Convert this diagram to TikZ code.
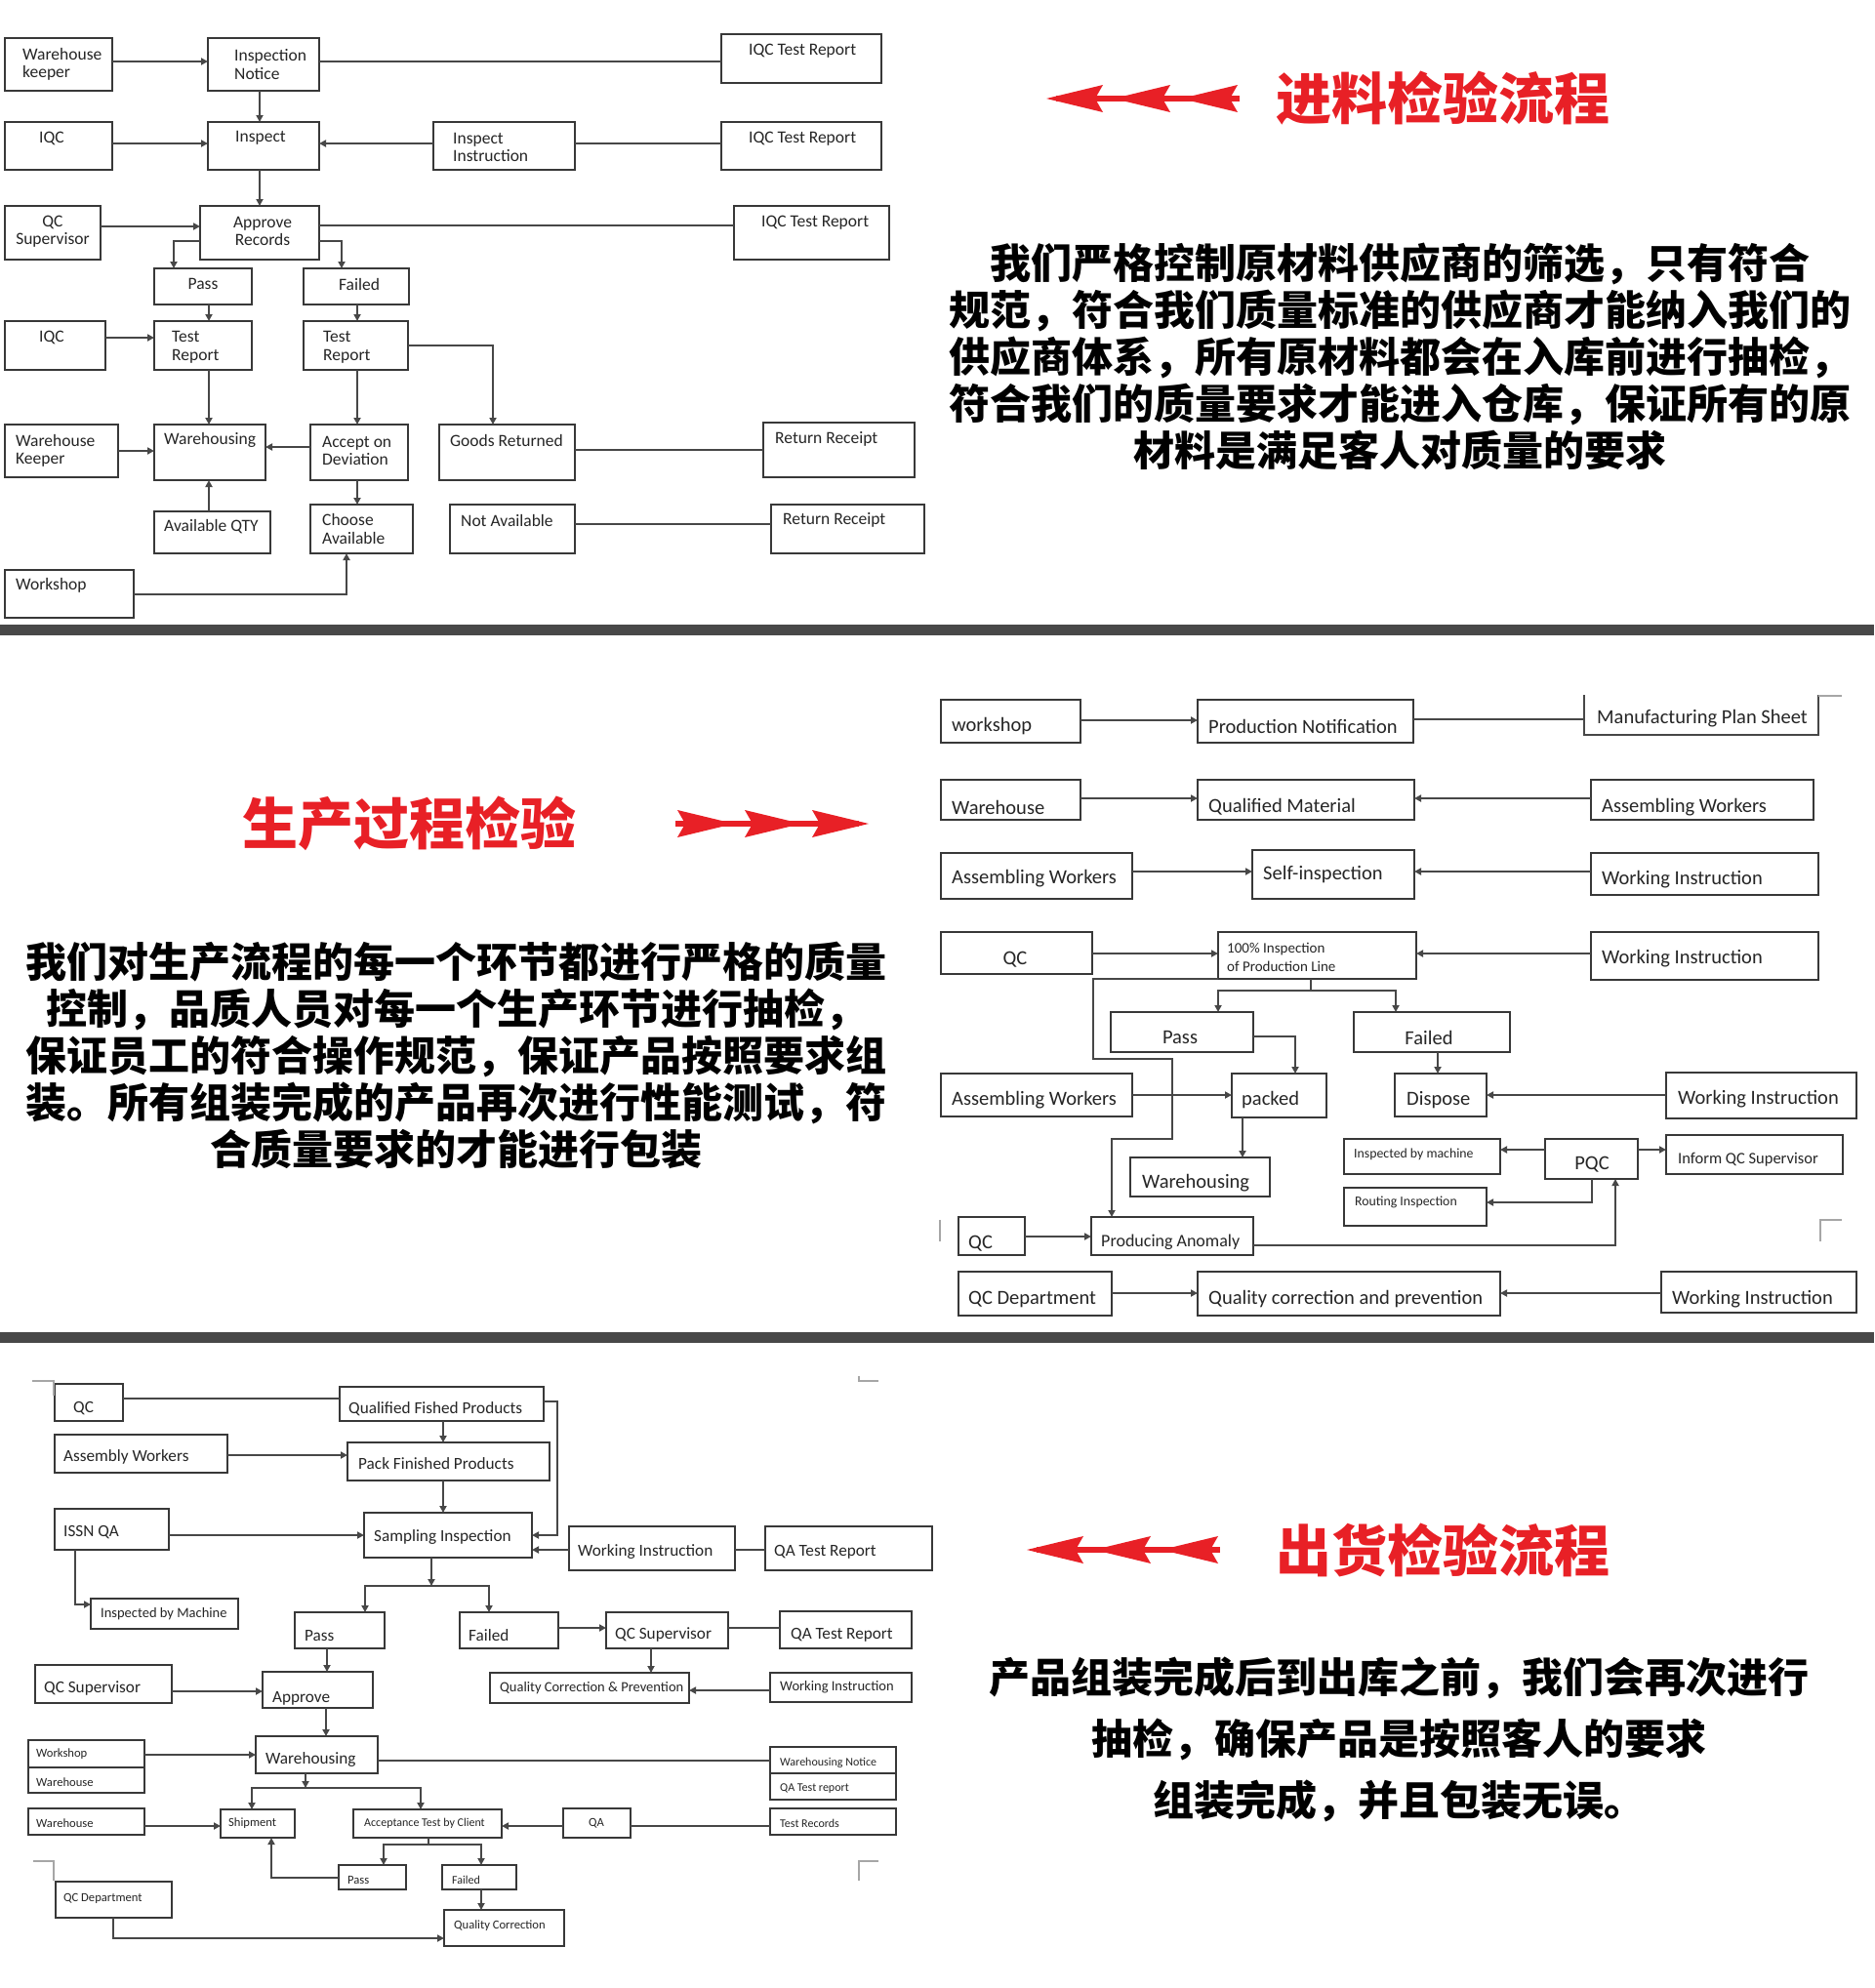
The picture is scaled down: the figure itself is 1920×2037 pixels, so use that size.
\documentclass[tikz,border=0pt]{standalone}
\usepackage{fontspec}
\setmainfont{Carlito}
\newfontfamily\cjk{Noto Sans CJK SC}
\usetikzlibrary{arrows.meta}
\definecolor{redc}{RGB}{232,32,38}
\definecolor{barc}{RGB}{72,72,72}
\tikzset{
  box/.style={draw=black!78, line width=1.8pt, inner sep=0pt, outer sep=0pt},
  ln/.style={draw=black!72, line width=1.8pt},
  arr/.style={ln, -{Triangle[length=7pt,width=7pt]}},
  mk/.style={draw=black!35, line width=1.2pt},
  tx/.style={anchor=west, align=left, inner sep=0pt, text=black!85},
  fa/.style={font=\fontsize{17.5}{18.5}\selectfont},
  fb/.style={font=\fontsize{20.5}{23}\selectfont},
  fc/.style={font=\fontsize{15}{19}\selectfont},
  fd/.style={font=\fontsize{13.8}{16}\selectfont},
  fe/.style={font=\fontsize{16.5}{19}\selectfont},
  ff/.style={font=\fontsize{18}{20}\selectfont},
  fg/.style={font=\fontsize{17.2}{19}\selectfont},
  fh/.style={font=\fontsize{14.5}{16}\selectfont},
  fi/.style={font=\fontsize{12.6}{14}\selectfont},
  fj/.style={font=\fontsize{12}{13}\selectfont},
  para/.style={font=\cjk\bfseries\fontsize{42}{48}\selectfont, align=center, inner sep=0pt, text=black},
  ttl/.style={font=\cjk\bfseries\fontsize{57}{60}\selectfont, inner sep=0pt, text=redc},
}
\newcommand\Bx[9]{%
  \node[box, minimum width={#4-#2}, minimum height={#5-#3}] (#1) at ({(#2+#4)/2},{(#3+#5)/2}) {};
  \node[tx, #8] (#1-t) at (#6,#7) {#9};}
\newcommand\RedArr[3]{%
  \begin{scope}[shift={(#1,#2)}, xscale=#3]
    \foreach \k in {0,69,138} \fill[redc] (\k,0) -- (\k+58,-14) -- (\k+50,0) -- (\k+58,14) -- cycle;
    \draw[redc, line width=6pt] (10,0) -- (198,0);
  \end{scope}}
\begin{document}
\begin{tikzpicture}[x=1pt,y=-1pt]
\fill[white] (0,0) rectangle (1920,2037);
\useasboundingbox (0,0) rectangle (1920,2037);

% ===== separators =====
\fill[barc] (0,640) rectangle (1920,651);
\fill[barc] (0,1365) rectangle (1920,1376);

% ===== section 1 =====
\Bx{wk}{5}{39}{115}{93}{23}{66}{fa}{Warehouse\\keeper}
\Bx{insn}{213}{39}{327}{93}{240}{66}{fa}{Inspection\\Notice}
\Bx{iqcr1}{739}{35}{903}{85}{767}{52}{fa}{IQC Test Report}
\Bx{iqc1}{5}{125}{115}{174}{40}{142}{fa}{IQC}
\Bx{insp}{213}{125}{327}{174}{241}{141}{fa}{Inspect}
\Bx{insi}{444}{125}{589}{174}{464}{151}{fa}{Inspect\\Instruction}
\Bx{iqcr2}{739}{125}{903}{174}{767}{142}{fa}{IQC Test Report}
\Bx{qcs}{5}{211}{103}{266}{54}{237}{fa,anchor=center,align=center}{QC\\Supervisor}
\Bx{appr}{205}{211}{327}{266}{269}{237}{fa,anchor=center,align=center}{Approve\\Records}
\Bx{iqcr3}{752}{211}{911}{266}{780}{228}{fa}{IQC Test Report}
\Bx{pass1}{158}{275}{258}{312}{208}{291}{fa,anchor=center}{Pass}
\Bx{fail1}{311}{275}{419}{312}{368}{291}{fa,anchor=center}{Failed}
\Bx{iqc2}{5}{329}{108}{379}{40}{346}{fa}{IQC}
\Bx{tr1}{158}{329}{258}{379}{176}{356}{fa}{Test\\Report}
\Bx{tr2}{311}{329}{418}{379}{331}{356}{fa}{Test\\Report}
\Bx{whk}{5}{435}{121}{489}{16}{462}{fa}{Warehouse\\Keeper}
\Bx{wh1}{158}{435}{272}{492}{168}{451}{fa}{Warehousing}
\Bx{aod}{318}{435}{418}{492}{330}{462}{fa}{Accept on\\Deviation}
\Bx{gr}{450}{435}{589}{492}{461}{451}{fa}{Goods Returned}
\Bx{rr1}{782}{433}{937}{489}{794}{450}{fa}{Return Receipt}
\Bx{aq}{158}{524}{277}{567}{168}{540}{fa}{Available QTY}
\Bx{ca}{318}{517}{423}{567}{330}{542}{fa}{Choose\\Available}
\Bx{na}{461}{517}{589}{567}{472}{533}{fa}{Not Available}
\Bx{rr2}{790}{517}{947}{567}{802}{533}{fa}{Return Receipt}
\Bx{ws1}{5}{584}{137}{633}{16}{600}{fa}{Workshop}

\draw[arr] (wk.east|-0,63) -- (insn.west|-0,63);
\draw[ln] (insn.east|-0,63) -- (iqcr1.west|-0,63);
\draw[arr] (insn.south-|266,0) -- (insp.north-|266,0);
\draw[arr] (iqc1.east|-0,147) -- (insp.west|-0,147);
\draw[arr] (insi.west|-0,147) -- (insp.east|-0,147);
\draw[ln] (insi.east|-0,147) -- (iqcr2.west|-0,147);
\draw[arr] (insp.south-|266,0) -- (appr.north-|266,0);
\draw[arr] (qcs.east|-0,232) -- (appr.west|-0,232);
\draw[ln] (appr.east|-0,231) -- (iqcr3.west|-0,231);
\draw[arr] (appr.west|-0,247) -| (pass1.north-|178,0);
\draw[arr] (appr.east|-0,247) -| (fail1.north-|350,0);
\draw[arr] (pass1.south-|214,0) -- (tr1.north-|214,0);
\draw[arr] (fail1.south-|366,0) -- (tr2.north-|366,0);
\draw[arr] (iqc2.east|-0,346) -- (tr1.west|-0,346);
\draw[arr] (tr1.south-|214,0) -- (wh1.north-|214,0);
\draw[arr] (tr2.south-|366,0) -- (aod.north-|366,0);
\draw[arr] (tr2.east|-0,354) -| (gr.north-|505,0);
\draw[arr] (whk.east|-0,462) -- (wh1.west|-0,462);
\draw[arr] (aod.west|-0,458) -- (wh1.east|-0,458);
\draw[arr] (aq.north-|214,0) -- (wh1.south-|214,0);
\draw[arr] (aod.south-|366,0) -- (ca.north-|366,0);
\draw[arr] (ws1.east|-0,609) -| (ca.south-|355,0);
\draw[ln] (gr.east|-0,461) -- (rr1.west|-0,461);
\draw[ln] (na.east|-0,537) -- (rr2.west|-0,537);

\RedArr{1072}{101}{1}
\node[ttl] (h1) at (1478,101) {进料检验流程};
\node[para] (p1) at (1434,365) {我们严格控制原材料供应商的筛选，只有符合\\规范，符合我们质量标准的供应商才能纳入我们的\\供应商体系，所有原材料都会在入库前进行抽检，\\符合我们的质量要求才能进入仓库，保证所有的原\\材料是满足客人对质量的要求};

% ===== section 2 =====
\RedArr{890}{844}{-1}
\node[ttl] (h2) at (419,844) {生产过程检验};
\node[para] (p2) at (467,1081) {我们对生产流程的每一个环节都进行严格的质量\\控制，品质人员对每一个生产环节进行抽检，\\保证员工的符合操作规范，保证产品按照要求组\\装。所有组装完成的产品再次进行性能测试，符\\合质量要求的才能进行包装};

\Bx{mws}{964}{717}{1107}{761}{975}{744}{fb}{workshop}
\Bx{pn}{1227}{717}{1448}{761}{1238}{744}{fb}{Production Notification}
\node[box, draw=none, minimum width=240, minimum height=41] (mps) at (1743,732.5) {};
\draw[ln] (mps.north west) -- (mps.south west) -- (mps.south east) -- (mps.north east);
\node[tx, fb] (mps-t) at (1636,736) {Manufacturing Plan Sheet};
\Bx{mwh}{964}{799}{1107}{840}{975}{827}{fb}{Warehouse}
\Bx{qm}{1227}{799}{1449}{840}{1238}{827}{fb}{Qualified Material}
\Bx{maw1}{1630}{799}{1858}{840}{1641}{827}{fb}{Assembling Workers}
\Bx{maw2}{964}{874}{1160}{921}{975}{900}{fb}{Assembling Workers}
\Bx{si}{1283}{871}{1449}{921}{1294}{896}{fb}{Self-inspection}
\Bx{wi1}{1630}{874}{1863}{917}{1641}{901}{fb}{Working Instruction}
\Bx{mqc1}{964}{955}{1119}{998}{1040}{983}{fb,anchor=center}{QC}
\Bx{pi}{1248}{955}{1451}{1003}{1257}{981}{fc}{100\% Inspection\\of Production Line}
\Bx{wi2}{1630}{955}{1863}{1004}{1641}{982}{fb}{Working Instruction}
\Bx{mpass}{1138}{1037}{1284}{1078}{1209}{1063}{fb,anchor=center}{Pass}
\Bx{mfail}{1387}{1037}{1547}{1078}{1464}{1063}{fb,anchor=center}{Failed}
\Bx{maw3}{964}{1100}{1160}{1144}{975}{1127}{fb}{Assembling Workers}
\Bx{pk}{1262}{1100}{1359}{1145}{1272}{1127}{fb}{packed}
\Bx{disp}{1429}{1100}{1523}{1144}{1441}{1127}{fb}{Dispose}
\Bx{wi3}{1707}{1099}{1902}{1146}{1719}{1126}{fb}{Working Instruction}
\Bx{mwhs}{1158}{1186}{1301}{1226}{1170}{1212}{fb}{Warehousing}
\Bx{ibm}{1377}{1167}{1537}{1203}{1387}{1183}{fd}{Inspected by machine}
\Bx{pqc}{1583}{1167}{1678}{1208}{1631}{1193}{fb,anchor=center}{PQC}
\Bx{iqcs}{1707}{1163}{1888}{1203}{1719}{1188}{fe}{Inform QC Supervisor}
\Bx{ri}{1377}{1217}{1523}{1256}{1388}{1232}{fd}{Routing Inspection}
\Bx{mqc2}{982}{1247}{1050}{1286}{992}{1274}{fb}{QC}
\Bx{pa}{1118}{1247}{1284}{1286}{1128}{1273}{ff}{Producing Anomaly}
\Bx{qcd}{982}{1303}{1139}{1348}{992}{1331}{fb}{QC Department}
\Bx{qcp}{1227}{1303}{1537}{1348}{1238}{1331}{fb}{Quality correction and prevention}
\Bx{wi4}{1702}{1303}{1902}{1345}{1713}{1331}{fb}{Working Instruction}

\coordinate (sp1) at (1343,1015);
\draw[arr] (mws.east|-0,738) -- (pn.west|-0,738);
\draw[ln] (pn.east|-0,737) -- (mps.west|-0,737);
\draw[arr] (mwh.east|-0,818) -- (qm.west|-0,818);
\draw[arr] (maw1.west|-0,818) -- (qm.east|-0,818);
\draw[arr] (maw2.east|-0,893) -- (si.west|-0,893);
\draw[arr] (wi1.west|-0,893) -- (si.east|-0,893);
\draw[arr] (mqc1.east|-0,977) -- (pi.west|-0,977);
\draw[arr] (wi2.west|-0,977) -- (pi.east|-0,977);
\draw[ln] (pi.south-|sp1) -- (sp1);
\draw[arr] (sp1) -| (mpass.north-|1248,0);
\draw[arr] (sp1) -| (mfail.north-|1430,0);
\draw[arr] (pi.south west) -- (1120,1003) |- (1201,1085) |- (1139,1167) -- (pa.north-|1139,0);
\draw[arr] (mpass.east|-0,1062) -| (pk.north-|1327,0);
\draw[arr] (maw3.east|-0,1122) -- (pk.west|-0,1122);
\draw[arr] (pk.south-|1273,0) -- (mwhs.north-|1273,0);
\draw[arr] (mfail.south-|1473,0) -- (disp.north-|1473,0);
\draw[arr] (wi3.west|-0,1122) -- (disp.east|-0,1122);
\draw[arr] (pqc.west|-0,1178) -- (ibm.east|-0,1178);
\draw[arr] (pqc.east|-0,1178) -- (iqcs.west|-0,1178);
\draw[arr] (pqc.south-|1631,0) |- (ri.east|-0,1232);
\draw[arr] (mqc2.east|-0,1267) -- (pa.west|-0,1267);
\draw[arr] (pa.east|-0,1276) -| (pqc.south-|1655,0);
\draw[arr] (qcd.east|-0,1325) -- (qcp.west|-0,1325);
\draw[arr] (wi4.west|-0,1325) -- (qcp.east|-0,1325);

\draw[mk] (1863,713) -- (1887,713);
\draw[mk] (1865,1272) -- (1865,1250) -- (1887,1250);
\draw[mk] (963,1250) -- (963,1272);

% ===== section 3 =====
\RedArr{1052}{1588}{1}
\node[ttl] (h3) at (1478,1588) {出货检验流程};
\node[para, font=\cjk\bfseries\fontsize{42}{63}\selectfont] (p3) at (1433,1782) {产品组装完成后到出库之前，我们会再次进行\\抽检，确保产品是按照客人的要求\\组装完成，并且包装无误。};

\Bx{bqc}{56}{1418}{126}{1456}{75}{1443}{fg}{QC}
\Bx{qfp}{348}{1421}{557}{1456}{357}{1444}{fg}{Qualified Fished Products}
\Bx{baw}{56}{1470}{233}{1509}{65}{1493}{fg}{Assembly Workers}
\Bx{pfp}{356}{1478}{563}{1517}{367}{1500}{fg}{Pack Finished Products}
\Bx{issn}{56}{1546}{173}{1588}{65}{1570}{fg}{ISSN QA}
\Bx{sinsp}{373}{1550}{545}{1596}{383}{1575}{fg}{Sampling Inspection}
\Bx{bwi}{583}{1564}{753}{1609}{592}{1590}{fg}{Working Instruction}
\Bx{qatr1}{784}{1564}{955}{1609}{793}{1590}{fg}{QA Test Report}
\Bx{ibm2}{93}{1638}{244}{1669}{103}{1654}{fh}{Inspected by Machine}
\Bx{bpass}{302}{1652}{394}{1689}{312}{1676}{fg}{Pass}
\Bx{bfail}{471}{1652}{572}{1689}{480}{1676}{fg}{Failed}
\Bx{bqcs}{621}{1652}{746}{1689}{630}{1675}{fg}{QC Supervisor}
\Bx{qatr2}{799}{1651}{934}{1689}{810}{1675}{fg}{QA Test Report}
\Bx{bqcs2}{36}{1706}{176}{1745}{45}{1730}{fg}{QC Supervisor}
\Bx{bappr}{269}{1713}{382}{1750}{279}{1740}{fg}{Approve}
\Bx{qccp}{502}{1714}{706}{1745}{512}{1730}{fh}{Quality Correction \& Prevention}
\Bx{bwi2}{789}{1714}{934}{1744}{799}{1729}{fh}{Working Instruction}
\Bx{bws}{29}{1783}{148}{1811}{37}{1797}{fi}{Workshop}
\Bx{bwh1}{29}{1811}{148}{1837}{37}{1826}{fi}{Warehouse}
\Bx{bwhs}{262}{1779}{387}{1817}{272}{1803}{fg}{Warehousing}
\Bx{whn}{789}{1790}{918}{1817}{799}{1806}{fj}{Warehousing Notice}
\Bx{qatr3}{789}{1817}{918}{1844}{799}{1833}{fj}{QA Test report}
\Bx{bwh2}{29}{1853}{148}{1880}{37}{1868}{fi}{Warehouse}
\Bx{ship}{226}{1854}{302}{1883}{234}{1868}{fi}{Shipment}
\Bx{atc}{362}{1854}{514}{1883}{373}{1868}{fj}{Acceptance Test by Client}
\Bx{bqa}{577}{1853}{646}{1883}{611}{1868}{fi,anchor=center}{QA}
\Bx{trec}{789}{1853}{918}{1880}{799}{1868}{fj}{Test Records}
\Bx{bpass2}{347}{1911}{416}{1936}{356}{1926}{fi}{Pass}
\Bx{bfail2}{453}{1911}{529}{1936}{463}{1926}{fj}{Failed}
\Bx{qcdep}{57}{1928}{176}{1965}{65}{1945}{fi}{QC Department}
\Bx{qcor}{455}{1957}{578}{1994}{465}{1973}{fi}{Quality Correction}

\coordinate (sp2) at (442,1625);
\coordinate (sp3) at (313,1832);
\coordinate (sp4) at (439,1890);
\draw[ln] (bqc.east|-0,1433) -- (qfp.west|-0,1433);
\draw[arr] (qfp.south-|454,0) -- (pfp.north-|454,0);
\draw[arr] (qfp.east|-0,1436) -- (571,1436) |- (sinsp.east|-0,1573);
\draw[arr] (baw.east|-0,1491) -- (pfp.west|-0,1491);
\draw[arr] (pfp.south-|454,0) -- (sinsp.north-|454,0);
\draw[arr] (issn.east|-0,1573) -- (sinsp.west|-0,1573);
\draw[arr] (bwi.west|-0,1588) -- (sinsp.east|-0,1588);
\draw[ln] (bwi.east|-0,1588) -- (qatr1.west|-0,1588);
\draw[arr] (issn.south-|77,0) |- (ibm2.west|-0,1644);
\draw[arr] (sinsp.south-|sp2) -- (sp2);
\draw[arr] (sp2) -| (bpass.north-|374,0);
\draw[arr] (sp2) -| (bfail.north-|501,0);
\draw[arr] (bfail.east|-0,1668) -- (bqcs.west|-0,1668);
\draw[ln] (bqcs.east|-0,1668) -- (qatr2.west|-0,1668);
\draw[arr] (bqcs.south-|667,0) -- (qccp.north-|667,0);
\draw[arr] (bwi2.west|-0,1732) -- (qccp.east|-0,1732);
\draw[arr] (bpass.south-|335,0) -- (bappr.north-|335,0);
\draw[arr] (bqcs2.east|-0,1733) -- (bappr.west|-0,1733);
\draw[arr] (bappr.south-|334,0) -- (bwhs.north-|334,0);
\draw[arr] (bws.east|-0,1798) -- (bwhs.west|-0,1798);
\draw[ln] (bwhs.east|-0,1804) -- (whn.west|-0,1804);
\draw[arr] (bwhs.south-|sp3) -- (sp3);
\draw[arr] (sp3) -| (ship.north-|258,0);
\draw[arr] (sp3) -| (atc.north-|431,0);
\draw[arr] (bwh2.east|-0,1871) -- (ship.west|-0,1871);
\draw[arr] (bqa.west|-0,1871) -- (atc.east|-0,1871);
\draw[ln] (bqa.east|-0,1871) -- (trec.west|-0,1871);
\draw[ln] (atc.south-|sp4) -- (sp4);
\draw[arr] (sp4) -| (bpass2.north-|393,0);
\draw[arr] (sp4) -| (bfail2.north-|493,0);
\draw[arr] (bpass2.west|-0,1924) -| (ship.south-|278,0);
\draw[arr] (bfail2.south-|493,0) -- (qcor.north-|493,0);
\draw[arr] (qcdep.south-|116,0) |- (qcor.west|-0,1986);

\draw[mk] (33,1415) -- (55,1415) -- (55,1430);
\draw[mk] (880,1410) -- (880,1415) -- (900,1415);
\draw[mk] (34,1907) -- (55,1907) -- (55,1927);
\draw[mk] (880,1927) -- (880,1907) -- (900,1907);
\end{tikzpicture}
\end{document}
